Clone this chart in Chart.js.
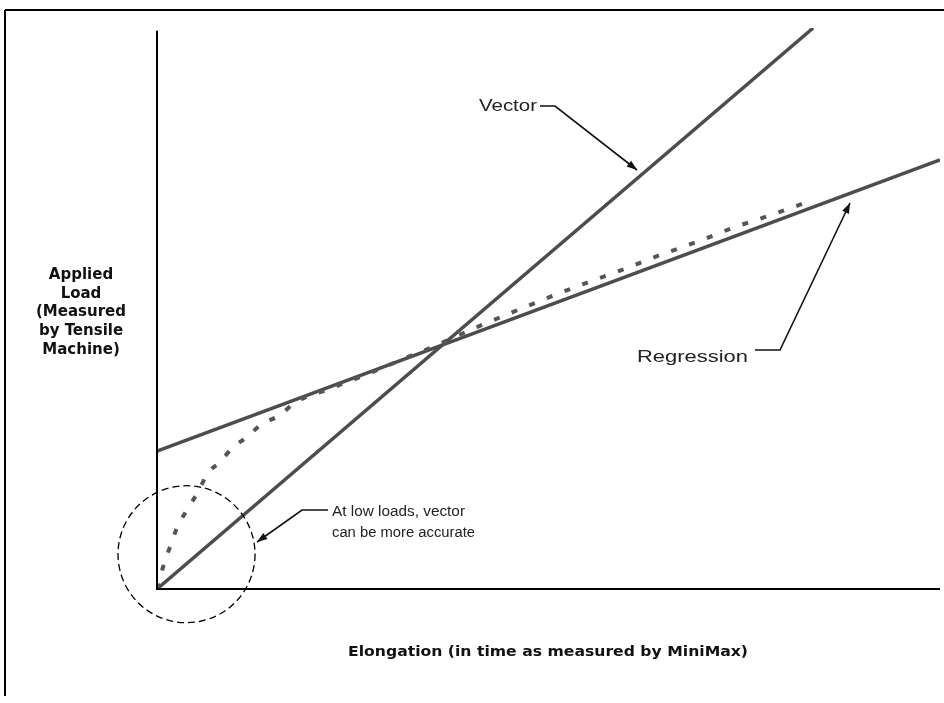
<!DOCTYPE html>
<html>
<head>
<meta charset="utf-8">
<script src="https://cdn.jsdelivr.net/npm/chart.js@4.4.1/dist/chart.umd.min.js"></script>
<style>
  body { margin: 0; background: #fff; }
  canvas { display: block; }
</style>
</head>
<body>
<canvas id="loadChart" width="944" height="703"></canvas>
<script>
// values (x: elongation 0-100, y: load 0-100)
const vectorX = [0, 83.8];
const vectorY = [0, 100];
const regressionX = [0, 100];
const regressionY = [24.6, 76.5];
const measuredX = [0, 0.77, 1.66, 2.55, 3.83, 5.24, 6.51, 8.05, 9.58, 11.5, 13.2, 15.7, 17.6, 22.1, 27.2, 32.3, 35.1, 40.9, 45.5, 49.9, 54.7, 59.4, 64.2, 69.0, 73.6, 78.5, 83.1];
const measuredY = [0, 3.9, 7.5, 10.9, 14.1, 17.3, 20.7, 22.6, 25.1, 27.1, 29.2, 31.0, 33.2, 35.7, 38.5, 41.5, 43.1, 46.7, 49.4, 51.9, 54.5, 56.9, 59.5, 61.9, 64.4, 66.7, 69.0];

const xTitle = 'Elongation (in time as measured by MiniMax)';
const yTitle = ['Applied', 'Load', '(Measured', 'by Tensile', 'Machine)'];
const notes = {
  vector: 'Vector',
  regression: 'Regression',
  lowLoad: ['At low loads, vector', 'can be more accurate']
};

const toPoints = (xs, ys) => xs.map((x, i) => ({ x: x, y: ys[i] }));

// text squeezed/stretched to a given width, like the scanned original
function fitText(ctx, str, x, y, font, width, align) {
  ctx.save();
  ctx.font = font;
  const w = ctx.measureText(str).width;
  const sx = width ? width / w : 1;
  let left = x;
  if (align === 'center') left = x - (w * sx) / 2;
  if (align === 'right') left = x - w * sx;
  ctx.translate(left, y);
  ctx.scale(sx, 1);
  ctx.textAlign = 'left';
  ctx.textBaseline = 'middle';
  ctx.fillText(str, 0, 0);
  ctx.restore();
}

function leader(ctx, pts) {
  ctx.save();
  ctx.strokeStyle = '#111';
  ctx.fillStyle = '#111';
  ctx.lineWidth = 1.6;
  ctx.beginPath();
  ctx.moveTo(pts[0][0], pts[0][1]);
  for (let i = 1; i < pts.length; i++) ctx.lineTo(pts[i][0], pts[i][1]);
  ctx.stroke();
  // arrow head at last point
  const [x1, y1] = pts[pts.length - 2];
  const [x2, y2] = pts[pts.length - 1];
  const a = Math.atan2(y2 - y1, x2 - x1);
  ctx.beginPath();
  ctx.moveTo(x2, y2);
  ctx.lineTo(x2 - 11 * Math.cos(a - 0.35), y2 - 11 * Math.sin(a - 0.35));
  ctx.lineTo(x2 - 11 * Math.cos(a + 0.35), y2 - 11 * Math.sin(a + 0.35));
  ctx.closePath();
  ctx.fill();
  ctx.restore();
}

const decorations = {
  id: 'decorations',
  afterDraw(chart) {
    const ctx = chart.ctx;
    const area = chart.chartArea;
    const xs = chart.scales.x, ys = chart.scales.y;

    ctx.save();
    // page frame (top and left edges of the scan)
    ctx.strokeStyle = '#000';
    ctx.lineWidth = 2;
    ctx.beginPath();
    ctx.moveTo(5, 10); ctx.lineTo(944, 10);
    ctx.moveTo(5, 10); ctx.lineTo(5, 696);
    ctx.stroke();

    // axes
    ctx.lineWidth = 2;
    ctx.beginPath();
    ctx.moveTo(area.left, ys.getPixelForValue(99.5));
    ctx.lineTo(area.left, area.bottom);
    ctx.lineTo(area.right, area.bottom);
    ctx.stroke();

    // dashed circle round the origin
    ctx.lineWidth = 1.3;
    ctx.setLineDash([7, 4]);
    ctx.beginPath();
    ctx.arc(xs.getPixelForValue(3.77), ys.getPixelForValue(6.2), 68.5, 0, Math.PI * 2);
    ctx.stroke();
    ctx.setLineDash([]);
    ctx.restore();

    ctx.fillStyle = '#111';
    // axis titles
    fitText(ctx, xTitle, 548, 652, 'bold 14px "DejaVu Sans"', 400, 'center');
    yTitle.forEach((s, i) => {
      fitText(ctx, s, 81, 275 + i * 18.8, 'bold 15px "DejaVu Sans"', null, 'center');
    });

    // callouts
    ctx.fillStyle = '#222';
    fitText(ctx, notes.vector, 537, 106, '17px "Liberation Sans"', 58, 'right');
    leader(ctx, [[540, 106], [555, 106], [637, 170]]);

    fitText(ctx, notes.regression, 637, 357, '17px "Liberation Sans"', 111, 'left');
    leader(ctx, [[755, 350], [780, 350], [850, 203]]);

    fitText(ctx, notes.lowLoad[0], 332, 512, '14px "Liberation Sans"', 133, 'left');
    fitText(ctx, notes.lowLoad[1], 332, 533, '14px "Liberation Sans"', 143, 'left');
    leader(ctx, [[328, 510], [302, 510], [257, 542]]);
  }
};

new Chart(document.getElementById('loadChart').getContext('2d'), {
  type: 'scatter',
  data: {
    datasets: [
      {
        label: 'Measured',
        data: toPoints(measuredX, measuredY),
        showLine: true,
        borderColor: '#555',
        borderWidth: 4,
        borderDash: [6, 13],
        cubicInterpolationMode: 'monotone',
        pointRadius: 0
      },
      {
        label: 'Regression',
        data: toPoints(regressionX, regressionY),
        showLine: true,
        borderColor: '#4d4d4d',
        borderWidth: 3.5,
        pointRadius: 0
      },
      {
        label: 'Vector',
        data: toPoints(vectorX, vectorY),
        showLine: true,
        borderColor: '#4d4d4d',
        borderWidth: 3.5,
        pointRadius: 0
      }
    ]
  },
  options: {
    responsive: false,
    animation: false,
    layout: { padding: { left: 157, right: 4, top: 28, bottom: 114 } },
    plugins: {
      legend: { display: false },
      tooltip: { enabled: false }
    },
    scales: {
      x: { type: 'linear', min: 0, max: 100, display: false },
      y: { type: 'linear', min: 0, max: 100, display: false }
    }
  },
  plugins: [decorations]
});
</script>
</body>
</html>
